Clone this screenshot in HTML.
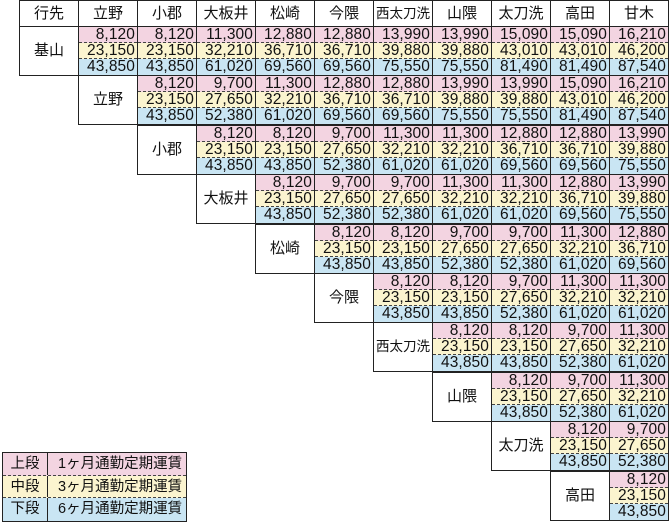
<!DOCTYPE html>
<html><head><meta charset="utf-8"><style>
*{margin:0;padding:0;box-sizing:border-box}
body{width:670px;height:525px;background:#fff;position:relative;overflow:hidden;font-family:"Liberation Sans","Noto Sans CJK JP",sans-serif;color:#111}
.h,.l,.c{position:absolute;width:60px;border:1px solid #222}
.h{top:0;height:27px;font-size:15px;text-align:center;line-height:25px}
.l{height:50px;font-size:15px;text-align:center;line-height:48px}
.c{height:50px}
.c p{height:16px;font-size:15.5px;line-height:16px;text-align:right;padding-right:2px;letter-spacing:0.1px}
.c p.a{background:#f3d4e1;border-bottom:1px dashed #444}
.c p.b{background:#fbf4cf;border-bottom:1px dashed #444}
.c p.d{background:#c9e5f3;height:16px}
.lg{position:absolute;left:2px;top:452px;width:185px;height:70px;border:1px solid #222}
.lg div{height:22.6px;font-size:14.5px;line-height:22px;display:flex}
.lg span:first-child{width:45px;text-align:center;border-right:1px solid #222}
.lg span:last-child{padding-left:10px}
</style></head><body>
<div class="h" style="left:19px">行先</div>
<div class="h" style="left:78px">立野</div>
<div class="h" style="left:137px">小郡</div>
<div class="h" style="left:196px">大板井</div>
<div class="h" style="left:255px">松崎</div>
<div class="h" style="left:314px">今隈</div>
<div class="h" style="left:373px;font-size:13.5px">西太刀洗</div>
<div class="h" style="left:432px">山隈</div>
<div class="h" style="left:491px">太刀洗</div>
<div class="h" style="left:550px">高田</div>
<div class="h" style="left:609px">甘木</div>

<div class="l" style="left:19px;top:26px">基山</div>
<div class="l" style="left:78px;top:75px">立野</div>
<div class="l" style="left:137px;top:125px">小郡</div>
<div class="l" style="left:196px;top:174px">大板井</div>
<div class="l" style="left:255px;top:224px">松崎</div>
<div class="l" style="left:314px;top:273px">今隈</div>
<div class="l" style="left:373px;top:322px;font-size:13.5px">西太刀洗</div>
<div class="l" style="left:432px;top:372px">山隈</div>
<div class="l" style="left:491px;top:421px">太刀洗</div>
<div class="l" style="left:550px;top:471px">高田</div>

<div class="c" style="left:78px;top:26px"><p class="a">8,120</p><p class="b">23,150</p><p class="d">43,850</p></div>
<div class="c" style="left:137px;top:26px"><p class="a">8,120</p><p class="b">23,150</p><p class="d">43,850</p></div>
<div class="c" style="left:196px;top:26px"><p class="a">11,300</p><p class="b">32,210</p><p class="d">61,020</p></div>
<div class="c" style="left:255px;top:26px"><p class="a">12,880</p><p class="b">36,710</p><p class="d">69,560</p></div>
<div class="c" style="left:314px;top:26px"><p class="a">12,880</p><p class="b">36,710</p><p class="d">69,560</p></div>
<div class="c" style="left:373px;top:26px"><p class="a">13,990</p><p class="b">39,880</p><p class="d">75,550</p></div>
<div class="c" style="left:432px;top:26px"><p class="a">13,990</p><p class="b">39,880</p><p class="d">75,550</p></div>
<div class="c" style="left:491px;top:26px"><p class="a">15,090</p><p class="b">43,010</p><p class="d">81,490</p></div>
<div class="c" style="left:550px;top:26px"><p class="a">15,090</p><p class="b">43,010</p><p class="d">81,490</p></div>
<div class="c" style="left:609px;top:26px"><p class="a">16,210</p><p class="b">46,200</p><p class="d">87,540</p></div>

<div class="c" style="left:137px;top:75px"><p class="a">8,120</p><p class="b">23,150</p><p class="d">43,850</p></div>
<div class="c" style="left:196px;top:75px"><p class="a">9,700</p><p class="b">27,650</p><p class="d">52,380</p></div>
<div class="c" style="left:255px;top:75px"><p class="a">11,300</p><p class="b">32,210</p><p class="d">61,020</p></div>
<div class="c" style="left:314px;top:75px"><p class="a">12,880</p><p class="b">36,710</p><p class="d">69,560</p></div>
<div class="c" style="left:373px;top:75px"><p class="a">12,880</p><p class="b">36,710</p><p class="d">69,560</p></div>
<div class="c" style="left:432px;top:75px"><p class="a">13,990</p><p class="b">39,880</p><p class="d">75,550</p></div>
<div class="c" style="left:491px;top:75px"><p class="a">13,990</p><p class="b">39,880</p><p class="d">75,550</p></div>
<div class="c" style="left:550px;top:75px"><p class="a">15,090</p><p class="b">43,010</p><p class="d">81,490</p></div>
<div class="c" style="left:609px;top:75px"><p class="a">16,210</p><p class="b">46,200</p><p class="d">87,540</p></div>

<div class="c" style="left:196px;top:125px"><p class="a">8,120</p><p class="b">23,150</p><p class="d">43,850</p></div>
<div class="c" style="left:255px;top:125px"><p class="a">8,120</p><p class="b">23,150</p><p class="d">43,850</p></div>
<div class="c" style="left:314px;top:125px"><p class="a">9,700</p><p class="b">27,650</p><p class="d">52,380</p></div>
<div class="c" style="left:373px;top:125px"><p class="a">11,300</p><p class="b">32,210</p><p class="d">61,020</p></div>
<div class="c" style="left:432px;top:125px"><p class="a">11,300</p><p class="b">32,210</p><p class="d">61,020</p></div>
<div class="c" style="left:491px;top:125px"><p class="a">12,880</p><p class="b">36,710</p><p class="d">69,560</p></div>
<div class="c" style="left:550px;top:125px"><p class="a">12,880</p><p class="b">36,710</p><p class="d">69,560</p></div>
<div class="c" style="left:609px;top:125px"><p class="a">13,990</p><p class="b">39,880</p><p class="d">75,550</p></div>

<div class="c" style="left:255px;top:174px"><p class="a">8,120</p><p class="b">23,150</p><p class="d">43,850</p></div>
<div class="c" style="left:314px;top:174px"><p class="a">9,700</p><p class="b">27,650</p><p class="d">52,380</p></div>
<div class="c" style="left:373px;top:174px"><p class="a">9,700</p><p class="b">27,650</p><p class="d">52,380</p></div>
<div class="c" style="left:432px;top:174px"><p class="a">11,300</p><p class="b">32,210</p><p class="d">61,020</p></div>
<div class="c" style="left:491px;top:174px"><p class="a">11,300</p><p class="b">32,210</p><p class="d">61,020</p></div>
<div class="c" style="left:550px;top:174px"><p class="a">12,880</p><p class="b">36,710</p><p class="d">69,560</p></div>
<div class="c" style="left:609px;top:174px"><p class="a">13,990</p><p class="b">39,880</p><p class="d">75,550</p></div>

<div class="c" style="left:314px;top:224px"><p class="a">8,120</p><p class="b">23,150</p><p class="d">43,850</p></div>
<div class="c" style="left:373px;top:224px"><p class="a">8,120</p><p class="b">23,150</p><p class="d">43,850</p></div>
<div class="c" style="left:432px;top:224px"><p class="a">9,700</p><p class="b">27,650</p><p class="d">52,380</p></div>
<div class="c" style="left:491px;top:224px"><p class="a">9,700</p><p class="b">27,650</p><p class="d">52,380</p></div>
<div class="c" style="left:550px;top:224px"><p class="a">11,300</p><p class="b">32,210</p><p class="d">61,020</p></div>
<div class="c" style="left:609px;top:224px"><p class="a">12,880</p><p class="b">36,710</p><p class="d">69,560</p></div>

<div class="c" style="left:373px;top:273px"><p class="a">8,120</p><p class="b">23,150</p><p class="d">43,850</p></div>
<div class="c" style="left:432px;top:273px"><p class="a">8,120</p><p class="b">23,150</p><p class="d">43,850</p></div>
<div class="c" style="left:491px;top:273px"><p class="a">9,700</p><p class="b">27,650</p><p class="d">52,380</p></div>
<div class="c" style="left:550px;top:273px"><p class="a">11,300</p><p class="b">32,210</p><p class="d">61,020</p></div>
<div class="c" style="left:609px;top:273px"><p class="a">11,300</p><p class="b">32,210</p><p class="d">61,020</p></div>

<div class="c" style="left:432px;top:322px"><p class="a">8,120</p><p class="b">23,150</p><p class="d">43,850</p></div>
<div class="c" style="left:491px;top:322px"><p class="a">8,120</p><p class="b">23,150</p><p class="d">43,850</p></div>
<div class="c" style="left:550px;top:322px"><p class="a">9,700</p><p class="b">27,650</p><p class="d">52,380</p></div>
<div class="c" style="left:609px;top:322px"><p class="a">11,300</p><p class="b">32,210</p><p class="d">61,020</p></div>

<div class="c" style="left:491px;top:372px"><p class="a">8,120</p><p class="b">23,150</p><p class="d">43,850</p></div>
<div class="c" style="left:550px;top:372px"><p class="a">9,700</p><p class="b">27,650</p><p class="d">52,380</p></div>
<div class="c" style="left:609px;top:372px"><p class="a">11,300</p><p class="b">32,210</p><p class="d">61,020</p></div>

<div class="c" style="left:550px;top:421px"><p class="a">8,120</p><p class="b">23,150</p><p class="d">43,850</p></div>
<div class="c" style="left:609px;top:421px"><p class="a">9,700</p><p class="b">27,650</p><p class="d">52,380</p></div>

<div class="c" style="left:609px;top:471px"><p class="a">8,120</p><p class="b">23,150</p><p class="d">43,850</p></div>

<div class="lg">
<div style="background:#f3d4e1;border-bottom:1px dashed #444"><span>上段</span><span>1ヶ月通勤定期運賃</span></div>
<div style="background:#fbf4cf;border-bottom:1px dashed #444"><span>中段</span><span>3ヶ月通勤定期運賃</span></div>
<div style="background:#c9e5f3"><span>下段</span><span>6ヶ月通勤定期運賃</span></div>
</div>
</body></html>
